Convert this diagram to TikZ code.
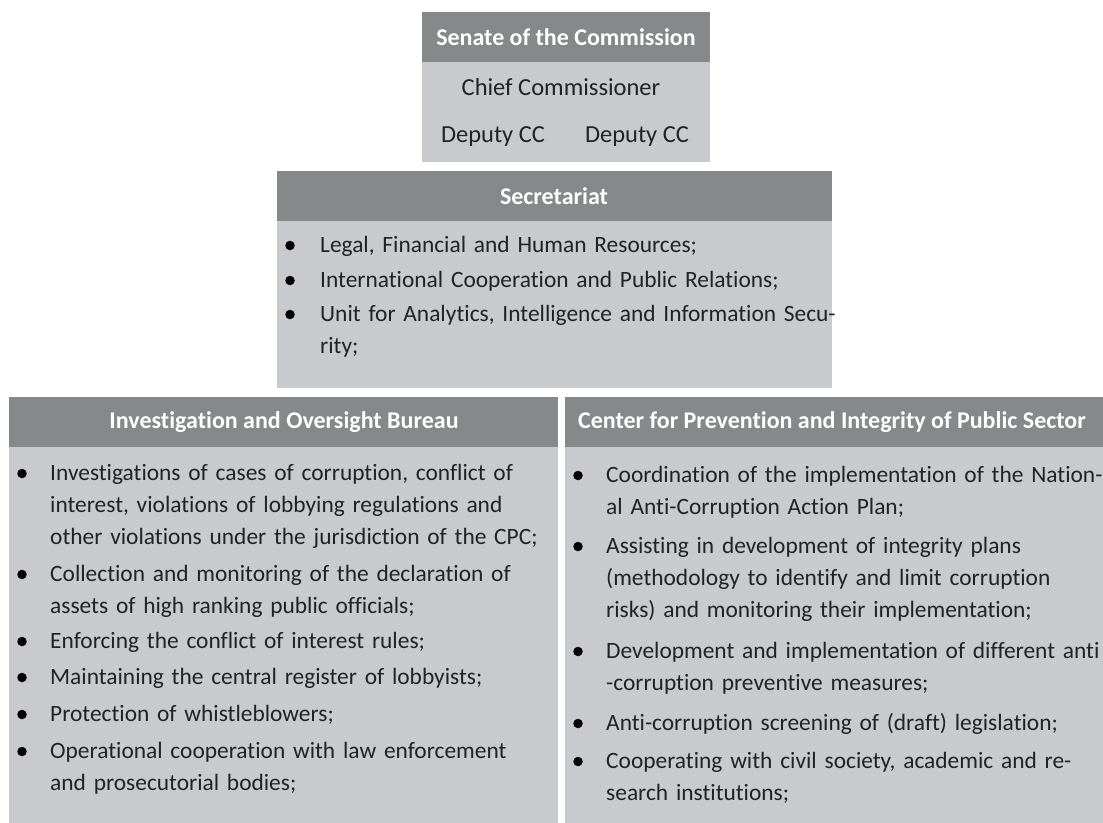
\documentclass[tikz,border=0pt]{standalone}
\usepackage{fontspec}
\setmainfont{Carlito}[Ligatures={NoCommon}]
\definecolor{hdr}{HTML}{87888A}
\definecolor{bdy}{HTML}{C9CACE}
\definecolor{txt}{HTML}{222222}
\begin{document}
\begin{tikzpicture}[x=1pt,y=-1pt,
  panel/.style={fill=bdy, draw=none, inner sep=0pt, outer sep=0pt, anchor=north west},
  headbar/.style={fill=hdr, draw=none, inner sep=0pt, outer sep=0pt, anchor=north west, minimum height=50pt},
  htext/.style={text=white, font=\fontsize{24}{29}\selectfont\bfseries, inner sep=0pt},
  btext/.style={text=txt, font=\fontsize{24.5}{29}\selectfont, inner sep=0pt},
  itemtext/.style={text=txt, font=\fontsize{23.4}{32}\selectfont, inner sep=0pt, anchor=base west, text width=620pt, align=left},
  dot/.style={circle, fill=black, draw=none, inner sep=0pt, minimum size=9.5pt}
]
\useasboundingbox (0,0) rectangle (1103,822);

% ---------- Senate ----------
\node[panel, minimum width=288pt, minimum height=150pt] (senB) at (422,12) {};
\node[headbar, minimum width=288pt] (senH) at (422,12) {};
\node[htext] (senT) at (566,37) {Senate of the Commission};
\node[btext] (chief) at (561,87) {Chief Commissioner};
\node[btext] (dep1) at (493,137) {Deputy CC};
\node[btext] (dep2) at (637,137) {Deputy CC};

% ---------- Secretariat ----------
\node[panel, minimum width=555pt, minimum height=217pt] (secB) at (277,171) {};
\node[headbar, minimum width=555pt] (secH) at (277,171) {};
\node[htext] (secT) at (554,196) {Secretariat};
\foreach \n/\y/\t in {s1/252/{Legal, Financial and Human Resources;},
                      s2/287/{International Cooperation and Public Relations;},
                      s3/321/{Unit for Analytics, Intelligence and Information Secu-\\rity;}}{
  \node[dot] (\n d) at (290,\y-6.5) {};
  \node[itemtext] (\n) at (320,\y) {\t};
}

% ---------- Investigation and Oversight Bureau ----------
\node[panel, minimum width=549pt, minimum height=435pt] (invB) at (9,397) {};
\node[headbar, minimum width=549pt] (invH) at (9,397) {};
\node[htext] (invT) at (284,422) {Investigation and Oversight Bureau};
\foreach \n/\y/\t in {i1/480/{Investigations of cases of corruption, conflict of\\interest, violations of lobbying regulations and\\other violations under the jurisdiction of the CPC;},
                      i2/581/{Collection and monitoring of the declaration of\\assets of high ranking public officials;},
                      i3/648/{Enforcing the conflict of interest rules;},
                      i4/684/{Maintaining the central register of lobbyists;},
                      i5/721/{Protection of whistleblowers;},
                      i6/758/{Operational cooperation with law enforcement\\and prosecutorial bodies;}}{
  \node[dot] (\n d) at (22,\y-6.5) {};
  \node[itemtext] (\n) at (50,\y) {\t};
}

% ---------- Center for Prevention ----------
\node[panel, minimum width=572pt, minimum height=435pt] (cenB) at (565,397) {};
\node[headbar, minimum width=572pt] (cenH) at (565,397) {};
\node[htext] (cenT) at (832,422) {Center for Prevention and Integrity of Public Sector};
\foreach \n/\y/\t in {c1/482/{Coordination of the implementation of the Nation-\\al Anti-Corruption Action Plan;},
                      c2/553/{Assisting in development of integrity plans\\(methodology to identify and limit corruption\\risks) and monitoring their implementation;},
                      c3/658/{Development and implementation of different anti\\-corruption preventive measures;},
                      c4/730/{Anti-corruption screening of (draft) legislation;},
                      c5/768/{Cooperating with civil society, academic and re-\\search institutions;}}{
  \node[dot] (\n d) at (578,\y-6.5) {};
  \node[itemtext] (\n) at (606,\y) {\t};
}
\end{tikzpicture}
\end{document}
